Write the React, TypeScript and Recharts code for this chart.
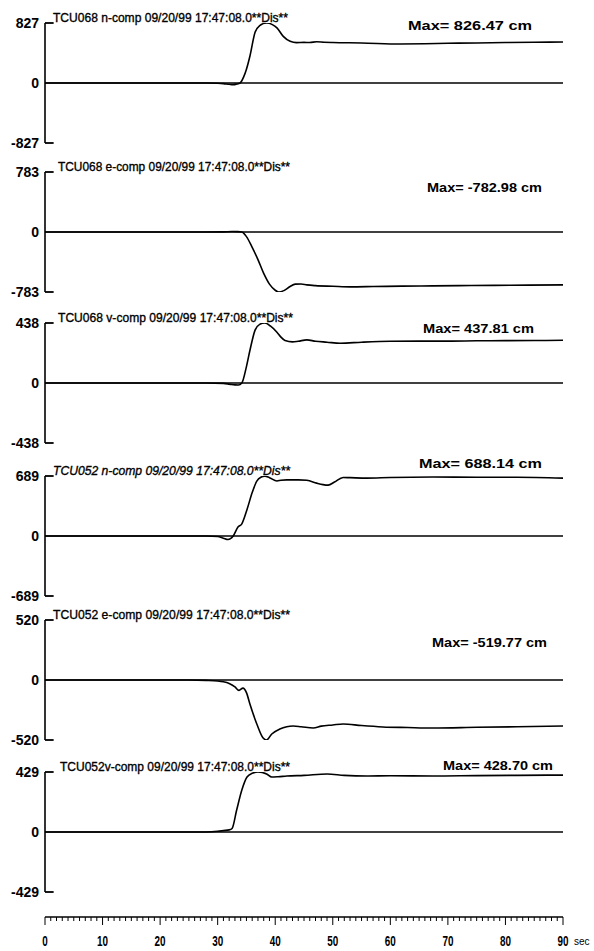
import React from 'react';
import { LineChart, Line, XAxis, YAxis, ReferenceLine } from 'recharts';

// ---- data (seconds / cm) ----
const tcu068nT = [0, 10, 20, 28, 30, 31, 32, 32.7, 33.3, 33.9, 34.5, 35, 35.6, 36.5, 37.3, 38.5, 39.5, 40.3, 41.4, 42.6, 43.7, 45, 46, 47.2, 48.5, 50, 55, 61.7, 66, 70, 75, 80, 85, 90];
const tcu068nV = [0, 0, 0, 0, -3, -8, -18, -23, -15, 0, 80, 190, 369, 700, 790, 826.47, 805, 760, 642, 574, 556, 560, 558, 568, 562, 558, 552, 537, 540, 548, 552, 558, 562, 565];

const tcu068eT = [0, 10, 20, 28, 31, 32.5, 33.5, 34.2, 35, 36, 37, 38, 39, 40, 40.6, 41.5, 42.5, 43.5, 44.5, 45.5, 47, 50, 53, 57, 62, 67.4, 72, 78, 84, 90];
const tcu068eV = [0, 0, 0, 0, 2, 6, 5, 0, -60, -200, -360, -540, -680, -760, -782.98, -765, -715, -680, -678, -690, -700, -708, -716, -712, -706, -703, -700, -696, -693, -690];

const tcu068vT = [0, 10, 20, 28, 31, 32, 33, 33.6, 34.2, 35, 35.6, 36.5, 37.3, 38.2, 39.2, 40.3, 41, 41.7, 43, 44, 45.5, 47, 49, 51.3, 55, 60, 65, 70, 75, 80, 85, 90];
const tcu068vV = [0, 0, 0, 0, -3, -8, -14, -15, 0, 120, 237, 386, 428, 437.81, 415, 371, 335, 310, 300, 305, 315, 305, 298, 290, 298, 305, 306, 306, 308, 309, 310, 312];

const tcu052nT = [0, 10, 20, 28, 30, 31, 31.8, 32.7, 33.5, 34.2, 35.1, 36, 36.8, 37.5, 38.2, 39, 40.3, 41, 42, 44, 45.5, 47.2, 48.3, 49.2, 50.3, 51.8, 53, 55.9, 60, 67.4, 75, 82, 90];
const tcu052nV = [0, 0, 0, 0, -5, -25, -40, 0, 100, 140, 304, 500, 630, 675, 688.14, 670, 632, 640, 645, 645, 640, 607, 590, 584, 620, 672, 670, 665, 672, 677, 675, 675, 665];

const tcu052eT = [0, 10, 20, 25, 28, 30, 31, 32, 33, 33.7, 34.4, 35, 35.6, 36.8, 37.9, 38.5, 39.4, 40.8, 42, 43.1, 44.5, 46.6, 48, 50, 51.8, 55, 58.7, 63, 67.4, 75, 82, 90];
const tcu052eV = [0, 0, 0, 0, -3, -8, -15, -30, -60, -90, -70, -110, -208, -381, -503, -519.77, -468, -425, -405, -399, -405, -416, -400, -390, -381, -395, -407, -412, -416, -410, -405, -399];

const tcu052vT = [0, 10, 20, 28, 30, 31, 32, 32.5, 33.3, 34.2, 35.1, 36, 37, 38.5, 39.4, 40.5, 42, 45, 49, 52, 55.9, 60, 67.4, 75, 82, 90];
const tcu052vV = [0, 0, 0, 0, 5, 10, 15, 25, 157, 300, 393, 420, 428.7, 415, 393, 395, 400, 405, 415, 405, 400, 402, 400, 403, 405, 407];

const axisMax = [827, 783, 438, 689, 520, 429];
const titles = [
  'TCU068 n-comp 09/20/99 17:47:08.0**Dis**',
  'TCU068 e-comp 09/20/99 17:47:08.0**Dis**',
  'TCU068 v-comp 09/20/99 17:47:08.0**Dis**',
  'TCU052 n-comp 09/20/99 17:47:08.0**Dis**',
  'TCU052 e-comp 09/20/99 17:47:08.0**Dis**',
  'TCU052v-comp 09/20/99 17:47:08.0**Dis**',
];
const maxLabels = ['Max= 826.47 cm', 'Max= -782.98 cm', 'Max= 437.81 cm', 'Max= 688.14 cm', 'Max= -519.77 cm', 'Max= 428.70 cm'];
const series = [
  [tcu068nT, tcu068nV],
  [tcu068eT, tcu068eV],
  [tcu068vT, tcu068vV],
  [tcu052nT, tcu052nV],
  [tcu052eT, tcu052eV],
  [tcu052vT, tcu052vV],
];
const xMajor = [0, 10, 20, 30, 40, 50, 60, 70, 80, 90];
const xRuler = Array.from({ length: 91 }, (_, i) => i);

// ---- layout ----
const FONT = "'Liberation Sans', Arial, Helvetica, sans-serif";
const W = 594;
const PLOT_H = 120;
const MT = 30;
const MB = 14;
const panelTops = [23, 172, 323, 476, 620, 772];
const titleX = [[53, 288], [58, 290], [58, 293], [53, 290], [53, 290], [60, 290]];
const maxPos = [[408, 532, 2], [427, 542, 15], [423, 534, 5], [419, 542, -13], [432, 547, 22], [443, 553, -7]];

const YTick = (props: any) => {
  const { x, y, payload } = props;
  return (
    <text x={x - 1} y={y} dy={5} textAnchor="end" fontSize={14} fontWeight="bold" fontFamily={FONT} fill="#000">
      {payload.value}
    </text>
  );
};

const RulerTick = (props: any) => {
  const { x, y, payload } = props;
  const v = payload.value;
  const major = xMajor.includes(v);
  return (
    <g>
      <line x1={x} y1={y} x2={x} y2={y + (major ? 8 : 4)} stroke="#000" strokeWidth={1} />
      {major && (
        <text x={x} y={y + 29} textAnchor="middle" fontSize={14} fontWeight="bold" fontFamily={FONT}
          textLength={String(v).length * 5.5} lengthAdjust="spacingAndGlyphs" fill="#000">
          {v}
        </text>
      )}
      {v === 90 && (
        <text x={x + 11} y={y + 28} fontSize={10} fontFamily={FONT} fill="#000">sec</text>
      )}
    </g>
  );
};

const Panel = ({ i }: { i: number }) => {
  const [ts, vs] = series[i];
  const data = ts.map((t, k) => ({ t, v: vs[k] }));
  const m = axisMax[i];
  const [tx0, tx1] = titleX[i];
  const [mx0, mx1, moff] = maxPos[i];
  return (
    <div style={{ position: 'absolute', left: 0, top: panelTops[i] - MT, width: W, height: MT + PLOT_H + MB }}>
      <LineChart width={W} height={MT + PLOT_H + MB} data={data} margin={{ top: MT, right: 31, bottom: MB, left: 0 }}>
        <XAxis type="number" dataKey="t" domain={[0, 90]} hide allowDataOverflow />
        <YAxis type="number" width={45} domain={[-m, m]} ticks={[-m, 0, m]} interval={0} allowDataOverflow
          axisLine={{ stroke: '#000', strokeWidth: 1.6 }} tickLine={false} tickSize={0} tickMargin={5} tick={<YTick />} />
        <ReferenceLine y={0} stroke="#000" strokeWidth={1.5} />
        <ReferenceLine segment={[{ x: 0, y: m }, { x: 1.5, y: m }]} stroke="#000" strokeWidth={1.8} ifOverflow="visible" />
        <ReferenceLine segment={[{ x: 0, y: -m }, { x: 1.5, y: -m }]} stroke="#000" strokeWidth={1.8} ifOverflow="visible" />
        <Line type="monotone" dataKey="v" stroke="#000" strokeWidth={1.6} dot={false} isAnimationActive={false} />
      </LineChart>
      <svg width={W} height={MT + PLOT_H + MB} style={{ position: 'absolute', left: 0, top: 0, pointerEvents: 'none' }}>
        <text x={tx0} y={MT - 1} fontSize={13} fontFamily={FONT} fontStyle={i === 3 ? 'italic' : 'normal'}
          textLength={tx1 - tx0} lengthAdjust="spacingAndGlyphs" fill="#000" stroke="#000" strokeWidth={0.35}>
          {titles[i]}
        </text>
        <text x={mx0} y={MT + moff + 5} fontSize={13.5} fontWeight="bold" fontFamily={FONT}
          textLength={mx1 - mx0} lengthAdjust="spacingAndGlyphs" fill="#000">
          {maxLabels[i]}
        </text>
      </svg>
    </div>
  );
};

export default function App() {
  const axisData = tcu068nT.map((t, k) => ({ t, v: tcu068nV[k] }));
  return (
    <div style={{ position: 'absolute', left: 0, top: 0, width: W, height: 951, background: '#fff' }}>
      {axisMax.map((_, i) => (
        <Panel key={i} i={i} />
      ))}
      <div style={{ position: 'absolute', left: 0, top: 905, width: W, height: 46 }}>
        <LineChart width={W} height={46} data={axisData} margin={{ top: 10, right: 31, bottom: 0, left: 45 }}>
          <XAxis type="number" dataKey="t" domain={[0, 90]} ticks={xRuler} interval={0} height={34} allowDataOverflow
            axisLine={{ stroke: '#000', strokeWidth: 1.6 }} tickLine={false} tickSize={0} tickMargin={0} tick={<RulerTick />} />
          <YAxis hide domain={[-1000, 1000]} />
          <Line dataKey="v" stroke="none" dot={false} isAnimationActive={false} />
        </LineChart>
      </div>
    </div>
  );
}
